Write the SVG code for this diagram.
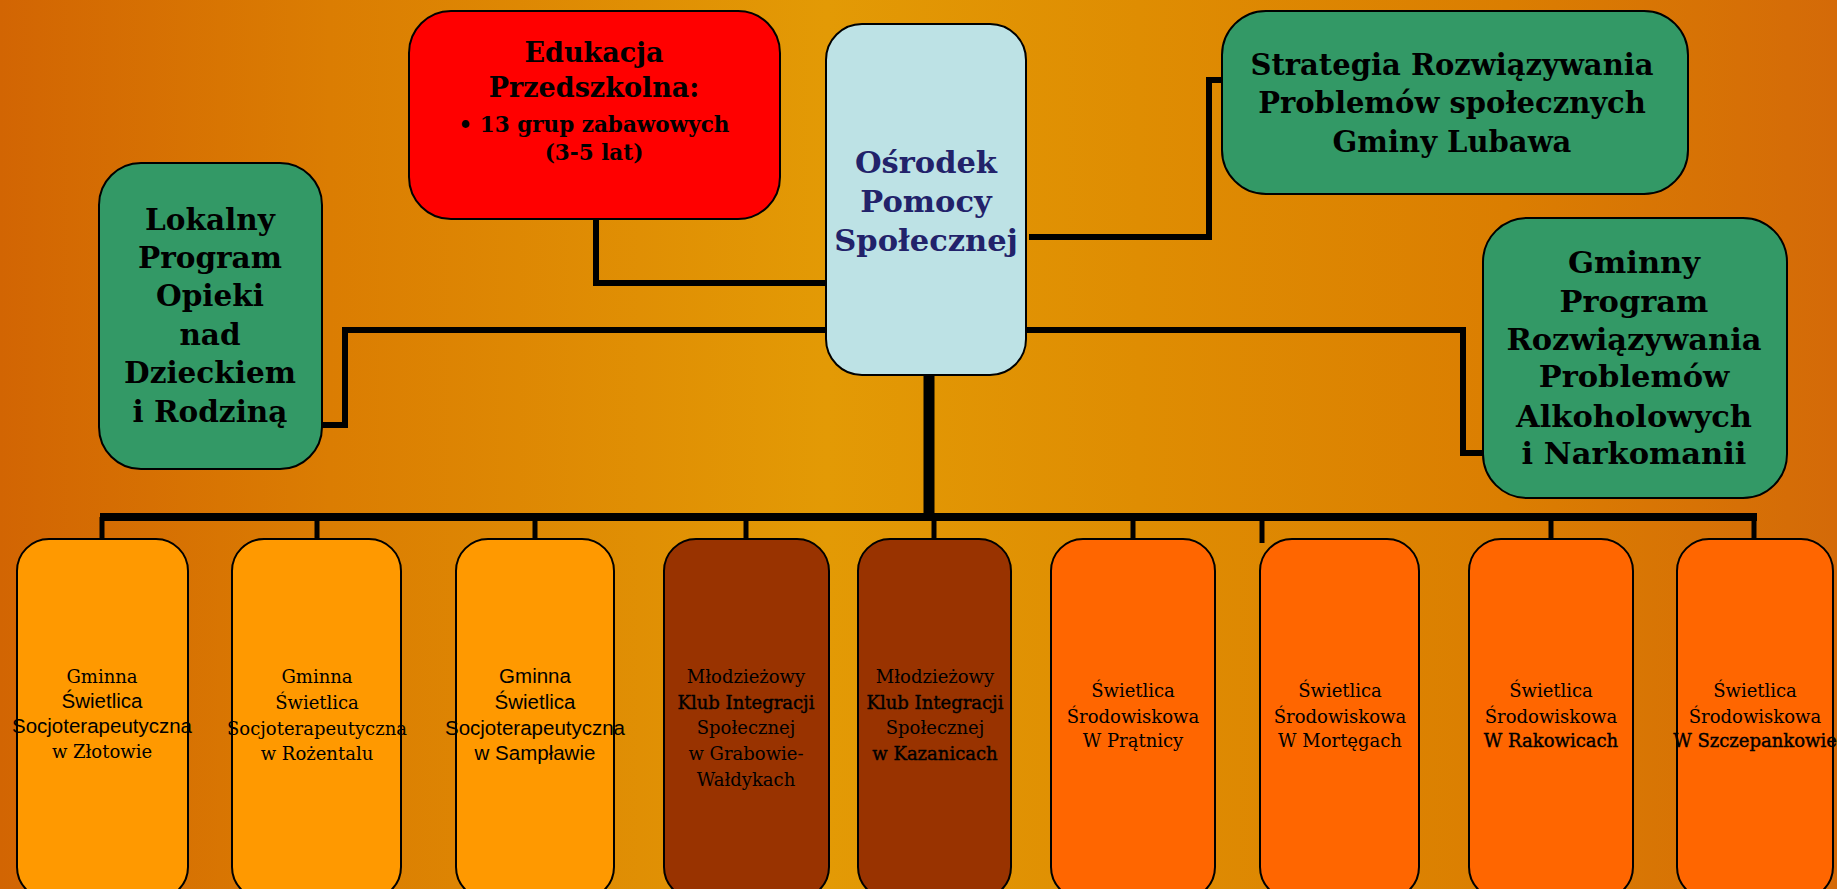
<svg xmlns="http://www.w3.org/2000/svg" width="1837" height="889" viewBox="0 0 1837 889">
<defs>
<linearGradient id="bg" x1="0" y1="0" x2="1" y2="0">
<stop offset="0" stop-color="#D26503"/>
<stop offset="0.18" stop-color="#DB7D02"/>
<stop offset="0.45" stop-color="#E39A05"/>
<stop offset="0.62" stop-color="#DF8D02"/>
<stop offset="0.82" stop-color="#DB7E01"/>
<stop offset="1" stop-color="#D46A08"/>
</linearGradient>
<style>
.box{stroke:#000;stroke-width:2}
.green{fill:#339966}
.light{fill:#FF9900}
.brown{fill:#993300}
.orange{fill:#FF6600}
.big{font-family:"DejaVu Serif","Liberation Serif",serif;font-weight:bold;font-size:29.5px;fill:#000;text-anchor:middle}
.nav{fill:#22226A}
.sm{font-family:"DejaVu Serif","Liberation Serif",serif;font-size:18px;fill:#000;text-anchor:middle}
.sans{font-family:"Liberation Sans",Arial,sans-serif;font-size:20.5px}
.semi{stroke:#000;stroke-width:0.4}
.con{fill:none;stroke:#000;stroke-width:6}
.drop{fill:none;stroke:#000;stroke-width:5}
</style>
</defs>
<rect x="0" y="0" width="1837" height="889" fill="url(#bg)"/>

<g id="connectors">
<path class="con" d="M596 219 V283 H826"/>
<path class="con" d="M826 330 H345 V425 H322"/>
<path class="con" d="M1029 237 H1209 V80 H1222"/>
<path class="con" d="M1025 330 H1463 V453 H1483"/>
<path fill="none" stroke="#000" stroke-width="11" d="M929 375 V518"/>
<path fill="none" stroke="#000" stroke-width="8" d="M100 517 H1757"/>
<path class="drop" d="M102 517 V540"/>
<path class="drop" d="M317 517 V540"/>
<path class="drop" d="M535 517 V540"/>
<path class="drop" d="M746 517 V540"/>
<path class="drop" d="M934 517 V540"/>
<path class="drop" d="M1133 517 V540"/>
<path class="drop" d="M1262 517 V543"/>
<path class="drop" d="M1551 517 V540"/>
<path class="drop" d="M1754 517 V540"/>
</g>

<g id="edukacja">
<rect class="box" x="409" y="11" width="371" height="208" rx="42" fill="#FF0000"/>
<text class="big" x="594" y="62" style="font-size:27px">Edukacja</text>
<text class="big" x="594" y="97" style="font-size:27px">Przedszkolna:</text>
<text class="big" x="594" y="132" style="font-size:21.5px">• 13 grup zabawowych</text>
<text class="big" x="594" y="160" style="font-size:21.5px">(3-5 lat)</text>
</g>

<g id="osrodek">
<rect class="box" x="826" y="24" width="200" height="351" rx="36" fill="#BDE2E5"/>
<text class="big nav" x="926" y="173" style="font-size:30.5px">Ośrodek</text>
<text class="big nav" x="926" y="212" style="font-size:30.5px">Pomocy</text>
<text class="big nav" x="926" y="251" style="font-size:30.5px">Społecznej</text>
</g>

<g id="lokalny">
<rect class="box green" x="99" y="163" width="223" height="306" rx="42"/>
<text class="big" x="210" y="230">Lokalny</text>
<text class="big" x="210" y="268">Program</text>
<text class="big" x="210" y="306">Opieki</text>
<text class="big" x="210" y="345">nad</text>
<text class="big" x="210" y="383">Dzieckiem</text>
<text class="big" x="210" y="422">i Rodziną</text>
</g>

<g id="strategia">
<rect class="box green" x="1222" y="11" width="466" height="183" rx="44"/>
<text class="big" x="1452" y="75" style="font-size:29px">Strategia Rozwiązywania</text>
<text class="big" x="1452" y="113" style="font-size:29px">Problemów społecznych</text>
<text class="big" x="1452" y="152" style="font-size:29px">Gminy Lubawa</text>
</g>

<g id="gminny">
<rect class="box green" x="1483" y="218" width="304" height="280" rx="44"/>
<text class="big" x="1634" y="273" style="font-size:30.5px">Gminny</text>
<text class="big" x="1634" y="312" style="font-size:30.5px">Program</text>
<text class="big" x="1634" y="350" style="font-size:30.5px">Rozwiązywania</text>
<text class="big" x="1634" y="387" style="font-size:30.5px">Problemów</text>
<text class="big" x="1634" y="427" style="font-size:30.5px">Alkoholowych</text>
<text class="big" x="1634" y="464" style="font-size:30.5px">i Narkomanii</text>
</g>

<g id="zlotow">
<rect class="box light" x="17" y="539" width="171" height="360" rx="32"/>
<text class="sm" x="102" y="683">Gminna</text>
<text class="sm sans" x="102" y="708">Świetlica</text>
<text class="sm sans" x="102" y="733">Socjoterapeutyczna</text>
<text class="sm" x="102" y="758">w Złotowie</text>
</g>

<g id="rozental">
<rect class="box light" x="232" y="539" width="169" height="360" rx="32"/>
<text class="sm" x="317" y="683">Gminna</text>
<text class="sm" x="317" y="709">Świetlica</text>
<text class="sm" x="317" y="735">Socjoterapeutyczna</text>
<text class="sm" x="317" y="760">w Rożentalu</text>
</g>

<g id="samplawa">
<rect class="box light" x="456" y="539" width="158" height="360" rx="32"/>
<text class="sm sans" x="535" y="683">Gminna</text>
<text class="sm sans" x="535" y="709">Świetlica</text>
<text class="sm sans" x="535" y="735">Socjoterapeutyczna</text>
<text class="sm sans" x="535" y="760">w Sampławie</text>
</g>

<g id="grabowo">
<rect class="box brown" x="664" y="539" width="165" height="360" rx="32"/>
<text class="sm" x="746" y="683">Młodzieżowy</text>
<text class="sm semi" x="746" y="709">Klub Integracji</text>
<text class="sm" x="746" y="734">Społecznej</text>
<text class="sm" x="746" y="760">w Grabowie-</text>
<text class="sm" x="746" y="786">Wałdykach</text>
</g>

<g id="kazanice">
<rect class="box brown" x="858" y="539" width="153" height="360" rx="32"/>
<text class="sm" x="935" y="683">Młodzieżowy</text>
<text class="sm semi" x="935" y="709">Klub Integracji</text>
<text class="sm" x="935" y="734">Społecznej</text>
<text class="sm semi" x="935" y="760">w Kazanicach</text>
</g>

<g id="pratnica">
<rect class="box orange" x="1051" y="539" width="164" height="360" rx="32"/>
<text class="sm" x="1133" y="697">Świetlica</text>
<text class="sm" x="1133" y="723">Środowiskowa</text>
<text class="sm" x="1133" y="747">W Prątnicy</text>
</g>

<g id="mortegi">
<rect class="box orange" x="1260" y="539" width="159" height="360" rx="32"/>
<text class="sm" x="1340" y="697">Świetlica</text>
<text class="sm" x="1340" y="723">Środowiskowa</text>
<text class="sm" x="1340" y="747">W Mortęgach</text>
</g>

<g id="rakowice">
<rect class="box orange" x="1469" y="539" width="164" height="360" rx="32"/>
<text class="sm" x="1551" y="697">Świetlica</text>
<text class="sm" x="1551" y="723">Środowiskowa</text>
<text class="sm semi" x="1551" y="747">W Rakowicach</text>
</g>

<g id="szczepankowo">
<rect class="box orange" x="1677" y="539" width="156" height="360" rx="32"/>
<text class="sm" x="1755" y="697">Świetlica</text>
<text class="sm" x="1755" y="723">Środowiskowa</text>
<text class="sm semi" x="1755" y="747">W Szczepankowie</text>
</g>
</svg>
